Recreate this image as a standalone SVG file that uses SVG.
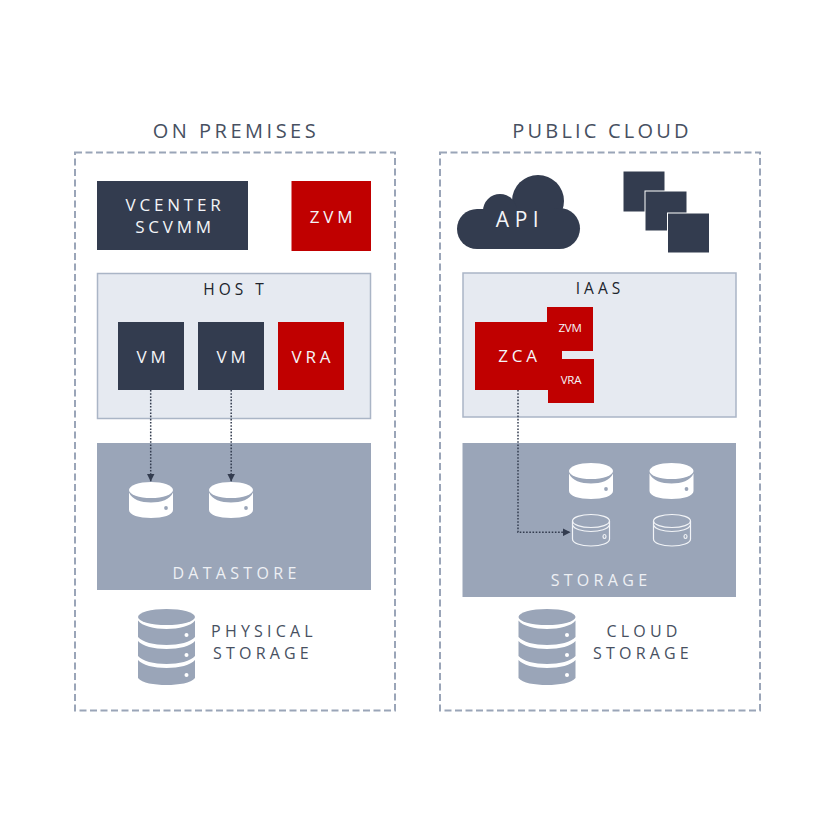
<svg xmlns="http://www.w3.org/2000/svg" width="834" height="834" viewBox="0 0 834 834">
<style>
text{font-family:"Open Sans","Noto Sans","Liberation Sans",sans-serif;text-anchor:middle}
.title{font-size:20px;letter-spacing:3.5px;fill:#475061}
.lab{font-size:17px;letter-spacing:3.8px;fill:#f4f5f8}
.dark{font-size:16px;letter-spacing:4.2px;fill:#475061}
.blk{font-size:15.5px;letter-spacing:4px;fill:#20242c}
.band{font-size:16px;letter-spacing:4.300px;fill:#eef0f4}
.small{font-size:11.500px;letter-spacing:-.2px;fill:#f4f5f8}
.zone{fill:none;stroke:#9aa5b8;stroke-width:2;stroke-dasharray:7 3.5}
.pale{fill:#e6eaf1;stroke:#aab5c6;stroke-width:1.5}
.navy{fill:#333c4f}.red{fill:#c00000}.grey{fill:#9aa5b8}
.link{fill:none;stroke:#333c4f;stroke-width:1.5;stroke-dasharray:1.6 1.6}
</style>
<defs>
<marker id="arrow" markerUnits="userSpaceOnUse" markerWidth="9" markerHeight="8" refX="8" refY="4" orient="auto"><path d="M0 0L8 4L0 8Z" fill="#333c4f"/></marker>
<g id="disk">
<path d="M0 10.500C3 17.500 12 20.500 22 20.500S41 17.500 44 10.500V28C44 33 34 36 22 36S0 33 0 28Z" fill="#fff"/>
<ellipse cx="22" cy="8" rx="22" ry="8" fill="#fff"/>
<circle cx="37" cy="26" r="1.900" fill="#9aa5b8"/>
</g>
<g id="diskline" fill="none" stroke="#f2f4f7" stroke-width="1.200">
<ellipse cx="19" cy="7" rx="18.500" ry="6.500"/>
<path d="M.5 7V25C.5 29 8.500 32 19 32S37.500 29 37.500 25V7"/>
<path d="M.5 11C2 15 10 17.500 19 17.500S36 15 37.500 11"/>
<ellipse cx="32.500" cy="22.500" rx="1.500" ry="2"/>
</g>
<g id="stack" fill="#9aa5b8">
<ellipse cx="28.500" cy="8" rx="28.500" ry="8"/>
<path d="M0 11.500C4 17 16 20 28.500 20S53 17 57 11.500V28C53 33 41 36 28.500 36S4 33 0 28Z"/>
<path d="M0 32C4 37 16 40 28.500 40S53 37 57 32V47C53 52 41 55 28.500 55S4 52 0 47Z"/>
<path d="M0 51C4 56 16 59 28.500 59S53 56 57 51V69C53 74 41 76 28.500 76S4 74 0 69Z"/>
<circle cx="48.500" cy="26" r="2" fill="#fff"/><circle cx="48.500" cy="46" r="2" fill="#fff"/><circle cx="48.500" cy="66" r="2" fill="#fff"/>
</g>
</defs>
<rect width="834" height="834" fill="#fff"/>

<g id="on-premises">
<rect class="zone" x="75" y="152.500" width="320" height="558"/>
<text class="title" x="236" y="138">ON PREMISES</text>
</g>
<g id="vcenter"><rect class="navy" x="97" y="181" width="151" height="69"/>
<text class="lab" x="175" y="211">VCENTER</text><text class="lab" x="175" y="233">SCVMM</text></g>
<g id="zvm"><rect class="red" x="291.500" y="181" width="79.500" height="70"/><text class="lab" x="333" y="223">ZVM</text></g>
<g id="host"><rect class="pale" x="97.500" y="273.500" width="273" height="145"/><text class="blk" x="235.500" y="295">HOS T</text></g>
<g id="vm1"><rect class="navy" x="118" y="322" width="66" height="68"/><text class="lab" x="153" y="363">VM</text></g>
<g id="vm2"><rect class="navy" x="198" y="322" width="66" height="68"/><text class="lab" x="233" y="363">VM</text></g>
<g id="vra"><rect class="red" x="278" y="322" width="66" height="68"/><text class="lab" x="313" y="363">VRA</text></g>
<g id="datastore"><rect class="grey" x="97" y="443" width="274" height="147"/><text class="band" x="236.500" y="579">DATASTORE</text></g>
<g id="disk1"><use href="#disk" x="129" y="482"/></g>
<g id="disk2"><use href="#disk" x="209" y="482"/></g>
<g id="physical-storage"><use href="#stack" x="138" y="609"/>
<text class="dark" x="264" y="637">PHYSICAL</text><text class="dark" x="263" y="659">STORAGE</text></g>

<g id="public-cloud">
<rect class="zone" x="440" y="152.500" width="320" height="558"/>
<text class="title" x="602" y="138" style="letter-spacing:3.2px">PUBLIC CLOUD</text>
</g>
<g id="api"><g class="navy"><circle cx="538" cy="201" r="26"/><circle cx="500" cy="211" r="17"/><circle cx="477" cy="229" r="20"/><circle cx="559.500" cy="228.500" r="20.500"/><rect x="477" y="209" width="82" height="40"/></g>
<text x="520" y="227" style="font-size:21px;letter-spacing:5.500px;fill:#f4f5f8">API</text></g>
<g id="instances" fill="#333c4f" stroke="#fff" stroke-width="1">
<rect x="623" y="171" width="42" height="41"/><rect x="645" y="191" width="42" height="40"/><rect x="667.500" y="213" width="42" height="40"/></g>
<g id="iaas"><rect class="pale" x="463" y="273" width="273" height="144"/><text class="blk" x="600" y="294">IAAS</text></g>
<g id="zca"><rect class="red" x="475" y="322" width="87" height="68"/><text class="lab" x="519.500" y="362">ZCA</text></g>
<g id="cloud-zvm"><rect class="red" x="547" y="307" width="46" height="44"/><text class="small" x="570" y="332">ZVM</text></g>
<g id="cloud-vra"><rect class="red" x="548" y="359" width="46" height="44"/><text class="small" x="571" y="384">VRA</text></g>
<g id="storage"><rect class="grey" x="462.500" y="443" width="273.500" height="154"/><text class="band" x="601" y="586">STORAGE</text></g>
<g id="cloud-disk1"><use href="#disk" x="569" y="463"/></g>
<g id="cloud-disk2"><use href="#disk" x="649.500" y="463"/></g>
<g id="cloud-disk3"><use href="#diskline" x="572" y="514"/></g>
<g id="cloud-disk4"><use href="#diskline" x="653" y="514"/></g>
<g id="cloud-storage"><use href="#stack" x="518.500" y="609"/>
<text class="dark" x="644" y="637">CLOUD</text><text class="dark" x="643" y="659">STORAGE</text></g>

<g id="connectors">
<path class="link" d="M150.700 390V481.500" marker-end="url(#arrow)"/>
<path class="link" d="M231.200 390V481.500" marker-end="url(#arrow)"/>
<path class="link" d="M518 390V532.300H570.500" marker-end="url(#arrow)"/>
</g>
</svg>
